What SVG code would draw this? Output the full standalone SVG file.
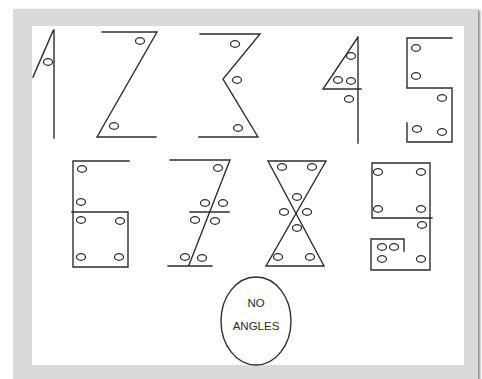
<svg xmlns="http://www.w3.org/2000/svg" width="482" height="379" viewBox="0 0 482 379">
<defs>
<style>
.ln{fill:none;stroke:#2e2e2e;stroke-width:1.4;stroke-linecap:square;stroke-linejoin:miter}
.c{fill:#fff;stroke:#2e2e2e;stroke-width:1.3}
.t{font-family:"Liberation Sans",Arial,sans-serif;font-size:11.5px;fill:#2a2a2a;text-anchor:middle}
</style>
<filter id="sh" x="-5%" y="-5%" width="110%" height="110%">
<feDropShadow dx="2" dy="1" stdDeviation="1.2" flood-color="#000" flood-opacity="0.45"/>
</filter>
</defs>
<rect width="482" height="379" fill="#fff"/>
<g id="frame">
<rect x="13" y="9" width="465" height="375" fill="#dadada" filter="url(#sh)"/>
<rect x="32" y="26" width="432" height="339" fill="#fff"/>
</g>
<g id="digit1">
<path class="ln" d="M54 30 V138 M53 31 L33 77"/>
<ellipse class="c" cx="48" cy="62" rx="4.5" ry="3.3"/>
</g>
<g id="digit2">
<path class="ln" d="M102 32 H157 L97 137 H156"/>
<ellipse class="c" cx="140" cy="41" rx="4.5" ry="3.3"/>
<ellipse class="c" cx="114" cy="126" rx="4.5" ry="3.3"/>
</g>
<g id="digit3">
<path class="ln" d="M200 34 H260 L223 79 L258 137 H199"/>
<ellipse class="c" cx="235" cy="44" rx="4.5" ry="3.3"/>
<ellipse class="c" cx="237" cy="80" rx="4.5" ry="3.3"/>
<ellipse class="c" cx="238" cy="128" rx="4.5" ry="3.3"/>
</g>
<g id="digit4">
<path class="ln" d="M358 37 V143 M358 37 L323 89 H361"/>
<ellipse class="c" cx="351" cy="56" rx="4.5" ry="3.3"/>
<ellipse class="c" cx="338" cy="80" rx="4.5" ry="3.3"/>
<ellipse class="c" cx="351" cy="81" rx="4.5" ry="3.3"/>
<ellipse class="c" cx="349" cy="99" rx="4.5" ry="3.3"/>
</g>
<g id="digit5">
<path class="ln" d="M452 38 H407 V88 H452 V142 H407 V123"/>
<ellipse class="c" cx="416" cy="48" rx="4.5" ry="3.3"/>
<ellipse class="c" cx="416" cy="76" rx="4.5" ry="3.3"/>
<ellipse class="c" cx="442" cy="98" rx="4.5" ry="3.3"/>
<ellipse class="c" cx="417" cy="129" rx="4.5" ry="3.3"/>
<ellipse class="c" cx="442" cy="132" rx="4.5" ry="3.3"/>
</g>
<g id="digit6">
<path class="ln" d="M129 161 H73 V267 H128 V212 H72"/>
<ellipse class="c" cx="82" cy="169" rx="4.5" ry="3.3"/>
<ellipse class="c" cx="81" cy="202" rx="4.5" ry="3.3"/>
<ellipse class="c" cx="81" cy="220" rx="4.5" ry="3.3"/>
<ellipse class="c" cx="120" cy="221" rx="4.5" ry="3.3"/>
<ellipse class="c" cx="81" cy="257" rx="4.5" ry="3.3"/>
<ellipse class="c" cx="119" cy="257" rx="4.5" ry="3.3"/>
</g>
<g id="digit7">
<path class="ln" d="M170 160 H230 L189 265 M168 266 H212 M190 212 H229"/>
<ellipse class="c" cx="218" cy="168" rx="4.5" ry="3.3"/>
<ellipse class="c" cx="205" cy="203" rx="4.5" ry="3.3"/>
<ellipse class="c" cx="223" cy="203" rx="4.5" ry="3.3"/>
<ellipse class="c" cx="195" cy="220" rx="4.5" ry="3.3"/>
<ellipse class="c" cx="215" cy="221" rx="4.5" ry="3.3"/>
<ellipse class="c" cx="185" cy="257" rx="4.5" ry="3.3"/>
<ellipse class="c" cx="202" cy="258" rx="4.5" ry="3.3"/>
</g>
<g id="digit8">
<path class="ln" d="M268 161 H326 L266 266 H324 Z"/>
<ellipse class="c" cx="282" cy="167" rx="4.5" ry="3.3"/>
<ellipse class="c" cx="312" cy="167" rx="4.5" ry="3.3"/>
<ellipse class="c" cx="297" cy="197" rx="4.5" ry="3.3"/>
<ellipse class="c" cx="284" cy="212" rx="4.5" ry="3.3"/>
<ellipse class="c" cx="307" cy="212" rx="4.5" ry="3.3"/>
<ellipse class="c" cx="297" cy="228" rx="4.5" ry="3.3"/>
<ellipse class="c" cx="278" cy="257" rx="4.5" ry="3.3"/>
<ellipse class="c" cx="310" cy="257" rx="4.5" ry="3.3"/>
</g>
<g id="digit9">
<path class="ln" d="M430 163 H372 V218 H432 M430 163 V270 H371 V239 H404 V251"/>
<ellipse class="c" cx="378" cy="172" rx="4.5" ry="3.3"/>
<ellipse class="c" cx="421" cy="172" rx="4.5" ry="3.3"/>
<ellipse class="c" cx="378" cy="209" rx="4.5" ry="3.3"/>
<ellipse class="c" cx="421" cy="209" rx="4.5" ry="3.3"/>
<ellipse class="c" cx="422" cy="225" rx="4.5" ry="3.3"/>
<ellipse class="c" cx="382" cy="247" rx="4.5" ry="3.3"/>
<ellipse class="c" cx="394" cy="247" rx="4.5" ry="3.3"/>
<ellipse class="c" cx="382" cy="259" rx="4.5" ry="3.3"/>
<ellipse class="c" cx="421" cy="259" rx="4.5" ry="3.3"/>
</g>
<g id="noangles">
<ellipse class="ln" cx="256" cy="321" rx="35" ry="44"/>
<text class="t" x="256" y="307">NO</text>
<text class="t" x="256" y="330">ANGLES</text>
</g>
</svg>
